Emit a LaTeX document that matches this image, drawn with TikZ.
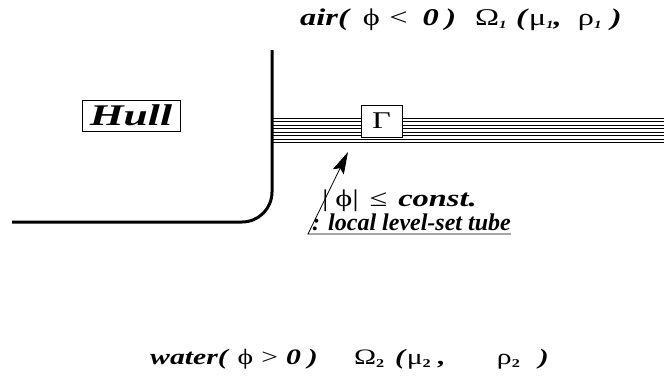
\documentclass[tikz,border=0pt]{standalone}
\usepackage{fontspec}
\usepackage{graphicx}
\setmainfont{Liberation Serif}
\usetikzlibrary{arrows.meta}
\newcommand{\bi}[1]{\textbf{\textit{#1}}}
\newcommand{\wide}[1]{\scalebox{1.35}[1]{#1}}
\newcommand{\subi}[1]{\raisebox{-3pt}{\fontsize{11}{11}\selectfont\textbf{\textit{#1}}}}
\newcommand{\subu}[1]{\raisebox{-3pt}{\fontsize{12}{12}\selectfont\textbf{#1}}}
\tikzset{
  txt/.style={inner sep=0pt, anchor=base west},
  tubeline/.style={line width=0.7pt},
  tagbox/.style={draw, line width=0.6pt, fill=white, inner sep=0pt}
}
\begin{document}
\begin{tikzpicture}[x=1pt, y=-1pt]
\useasboundingbox (0,0) rectangle (664,380);
% level-set tube
\foreach \y in {118,121.5,...,143}
  \draw[tubeline] (272,\y) -- (664,\y);
\draw[line width=1.5pt] (272,121.5) -- (664,121.5);
\draw[line width=1.5pt] (272,142.5) -- (664,142.5);
% hull wall
\draw[line width=3pt, rounded corners=30pt] (272,50) -- (272,222) -- (12,222);
\node[tagbox, minimum width=98pt, minimum height=31pt] (hull) at (131,115.5)
  {\fontsize{30}{34}\selectfont\scalebox{1.45}[1]{\bi{Hull}}};
\node[tagbox, minimum width=41pt, minimum height=32pt] (gamma) at (381.5,121)
  {\fontsize{24}{28}\selectfont\wide{Γ}};
% labels
\node[txt, font=\fontsize{24}{28}\selectfont] (air) at (300,25)
  {\wide{\bi{air(}\hspace{9pt}ϕ\hspace{7pt}<\hspace{11pt}\bi{0}\hspace{5pt}\bi{)}\hspace{14pt}Ω\subi{1}\hspace{7pt}\bi{(}μ\subi{1}\bi{,}\hspace{12pt}ρ\subi{1}\hspace{7pt}\bi{)}}};
\node[txt, font=\fontsize{22}{26}\selectfont] (water) at (150,364)
  {\wide{\bi{water(}\hspace{6pt}ϕ\hspace{6pt}>\hspace{6pt}\bi{0}\hspace{5pt}\bi{)}\hspace{27pt}Ω\subu{2}\hspace{8pt}\bi{(}μ\subu{2}\bi{ ,}\hspace{38pt}ρ\subu{2}\hspace{14pt}\bi{)}}};
\node[txt, font=\fontsize{24}{28}\selectfont] (bound) at (322,206)
  {\wide{|\hspace{5pt}ϕ|\hspace{8pt}≤\hspace{8pt}\bi{const.}}};
\node[txt, font=\fontsize{24}{28}\selectfont] (tube) at (312,230)
  {\bi{: local level-set tube}};
% leader to the tube
\coordinate (bend) at (308,234);
\coordinate (tubept) at (348,152);
\draw[line width=0.8pt, -{Stealth[length=22pt, width=12pt, inset=4pt]}]
  (tube.east |- bend) -- (bend) -- (tubept);
\end{tikzpicture}
\end{document}
